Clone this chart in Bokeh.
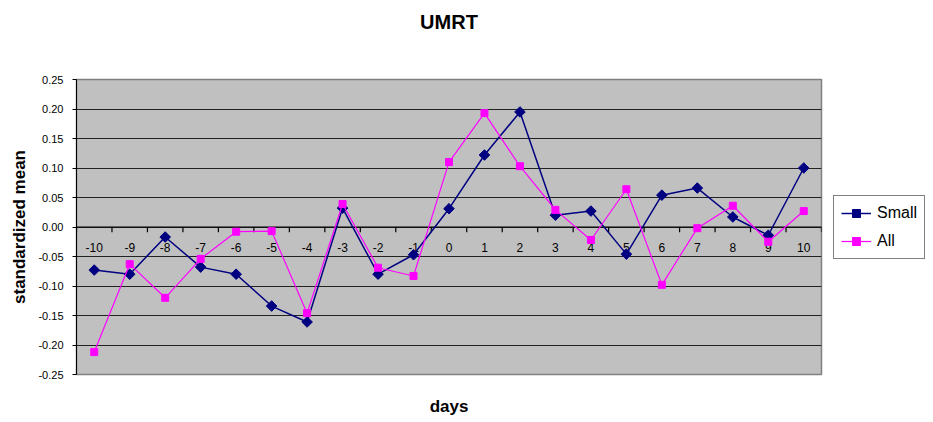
from bokeh.plotting import figure
from bokeh.models import (Legend, LegendItem, ColumnDataSource, FixedTicker,
                          CustomJSTickFormatter, Range1d, Title)
from bokeh.core.properties import value
from bokeh.embed import file_html
from bokeh.resources import INLINE

# Event-window days and standardized means per series
days = list(range(-10, 11))
day_labels = [str(d) for d in days]
small = [-0.073, -0.080, -0.017, -0.068, -0.080, -0.134, -0.161, 0.032, -0.080, -0.047,
         0.031, 0.122, 0.195, 0.020, 0.027, -0.046, 0.054, 0.066, 0.017, -0.014, 0.100]
all_ = [-0.212, -0.063, -0.120, -0.054, -0.008, -0.007, -0.146, 0.039, -0.069, -0.083,
        0.110, 0.193, 0.103, 0.029, -0.022, 0.064, -0.098, -0.002, 0.036, -0.025, 0.027]
y_ticks = [-0.25, -0.20, -0.15, -0.10, -0.05, 0.0, 0.05, 0.10, 0.15, 0.20, 0.25]

FONT = "Liberation Sans"

p = figure(frame_width=745, frame_height=295, output_backend="svg", toolbar_location=None,
           x_range=Range1d(-10.5, 10.5), y_range=Range1d(-0.25, 0.25),
           min_border_left=76, min_border_right=0, min_border_top=78,
           min_border_bottom=48)
p.border_fill_color = "white"
p.background_fill_color = "#C0C0C0"
p.outline_line_color = "#808080"
p.outline_line_width = 1.5

# Chart title, with a blank spacer title between it and the frame
p.title.text = "UMRT"
p.title.text_font = FONT
p.title.text_font_size = "20px"
p.title.text_font_style = "bold"
p.title.text_color = "black"
p.title.align = "center"
p.title.offset = 19
p.title.standoff = 16
p.add_layout(Title(text=" ", text_font_size="1px", standoff=36), "above")

# Y axis
p.yaxis.ticker = FixedTicker(ticks=y_ticks)
p.yaxis.formatter = CustomJSTickFormatter(code="return tick.toFixed(2);")
p.yaxis.major_label_text_font = FONT
p.yaxis.major_label_text_font_size = "11px"
p.yaxis.major_label_text_color = "black"
p.yaxis.major_label_standoff = 9
p.yaxis.axis_line_color = "black"
p.yaxis.major_tick_line_color = "black"
p.yaxis.major_tick_out = 4
p.yaxis.major_tick_in = 0
p.yaxis.minor_tick_line_color = None
p.yaxis.axis_label = "standardized mean"
p.yaxis.axis_label_text_font = FONT
p.yaxis.axis_label_text_font_size = "17px"
p.yaxis.axis_label_text_font_style = "bold"
p.yaxis.axis_label_text_color = "black"
p.yaxis.axis_label_standoff = 6

# Bottom axis only carries the "days" label; the category axis is drawn at y = 0
p.xaxis.ticker = FixedTicker(ticks=[])
p.xaxis.axis_line_color = None
p.xaxis.major_tick_line_color = None
p.xaxis.minor_tick_line_color = None
p.xaxis.axis_label = "days"
p.xaxis.axis_label_text_font = FONT
p.xaxis.axis_label_text_font_size = "17px"
p.xaxis.axis_label_text_font_style = "bold"
p.xaxis.axis_label_text_color = "black"
p.xaxis.axis_label_standoff = 22

p.xgrid.grid_line_color = None
p.ygrid.ticker = FixedTicker(ticks=y_ticks)
p.ygrid.grid_line_color = "#222222"
p.ygrid.grid_line_width = 1.2

# Zero-crossing category axis: line, downward ticks between days, day labels
p.segment(x0=[-10.5], y0=[0], x1=[10.5], y1=[0], line_color="black", line_width=1.2)
bounds = [d + 0.5 for d in range(-11, 11)]
tick_src = ColumnDataSource(dict(x=bounds, y0=[0] * len(bounds),
                                 y1=[-0.009] * len(bounds)))
p.segment(x0="x", y0="y0", x1="x", y1="y1", source=tick_src,
          line_color="black", line_width=1.2)
lab_src = ColumnDataSource(dict(x=days, y=[0] * len(days), t=day_labels))
p.text("x", "y", text="t", source=lab_src, text_font_size="12px",
       text_align="center", text_baseline="middle", y_offset=20,
       text_color="black", text_font=value(FONT))

# Series
src = ColumnDataSource(dict(x=days, small=small, all=all_))
l1 = p.line("x", "small", source=src, line_color="#000080", line_width=1.5)
m1 = p.scatter("x", "small", source=src, marker="square", angle=0.7854, size=7.5,
               fill_color="#000080", line_color="#000080")
l2 = p.line("x", "all", source=src, line_color="#FF00FF", line_width=1.2)
m2 = p.scatter("x", "all", source=src, marker="square", size=7,
               fill_color="#FF00FF", line_color="#FF00FF")

legend = Legend(items=[LegendItem(label="Small", renderers=[l1, m1]),
                       LegendItem(label="All", renderers=[l2, m2])],
                location="center_left")
legend.label_text_font = FONT
legend.label_text_font_size = "16px"
legend.label_text_color = "black"
legend.border_line_color = "black"
legend.border_line_width = 1
legend.background_fill_color = "white"
legend.background_fill_alpha = 1
legend.glyph_width = 30
legend.label_standoff = 6
legend.spacing = 8
legend.padding = 7
legend.margin = 12
p.add_layout(legend, "right")

open("out.html", "w").write(file_html(p, INLINE))
